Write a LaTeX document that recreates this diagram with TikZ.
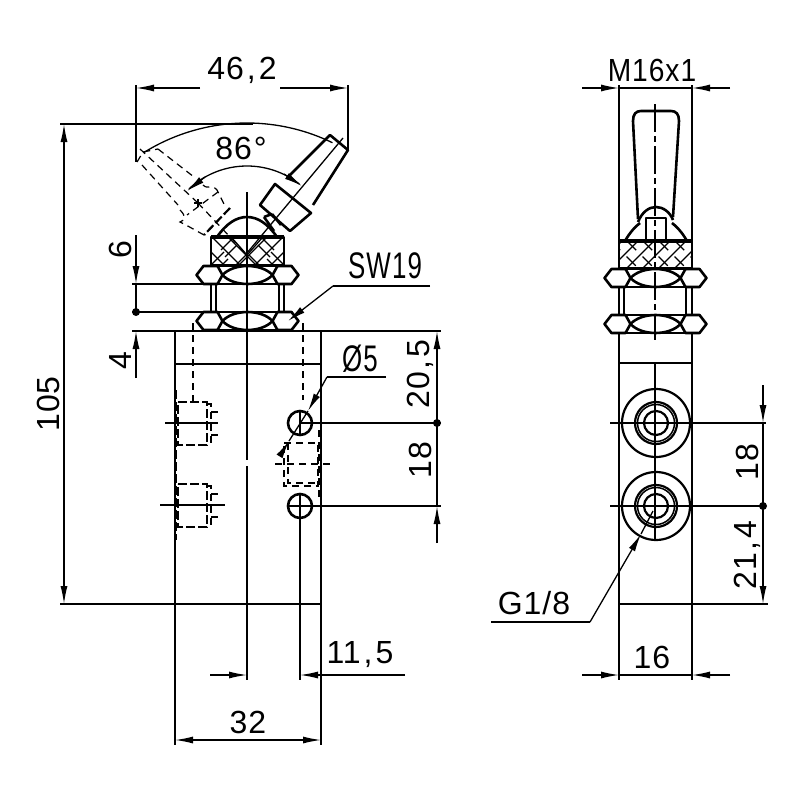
\documentclass[tikz,border=0pt]{standalone}
\usepackage{fontspec}
\setmainfont{Liberation Sans}[LetterSpace=3]
\newfontfamily\narrowf{Liberation Sans}[FakeStretch=0.7,LetterSpace=3]
\newfontfamily\midf{Liberation Sans}[FakeStretch=0.88,LetterSpace=3]
\usetikzlibrary{arrows.meta}
\tikzset{
  thk/.style={line width=2.6pt,line join=round},
  thn/.style={line width=1.3pt},
  hid/.style={line width=1.2pt,dash pattern=on 7pt off 5pt},
  hidk/.style={line width=1.7pt,dash pattern=on 9pt off 3pt},
  arr/.style={line width=1.3pt,-{Latex[length=18pt,width=7pt]}},
  dimtxt/.style={inner sep=0pt,font=\fontsize{32}{32}\selectfont},
  bigtxt/.style={inner sep=0pt,font=\fontsize{37}{37}\selectfont},
  dimrot/.style={dimtxt,rotate=90},
  dotn/.style={circle,fill=black,inner sep=0pt,minimum size=8pt}
}
\newcommand{\cm}{\kern3pt,\kern3pt}
\newcommand{\hexnut}[2]{%
  \begin{scope}[shift={(#1,#2)},thk]
    \draw (-51,0) -- (-44,-9) -- (-30,-9) -- (-25,0) -- (-30,9) -- (-44,9) -- cycle;
    \draw (51,0) -- (44,-9) -- (30,-9) -- (25,0) -- (30,9) -- (44,9) -- cycle;
    \draw (-25,0) .. controls (-14,-12) and (14,-12) .. (25,0) .. controls (14,12) and (-14,12) .. (-25,0) -- cycle;
    \draw (-30,-9) -- (30,-9) (-30,9) -- (30,9);
  \end{scope}}
\begin{document}
\begin{tikzpicture}[x=1pt,y=-1pt]
\useasboundingbox (0,0) rectangle (800,800);
\fill[white] (0,0) rectangle (800,800);

% ---------- left view: thin construction lines
\draw[thn] (247,192) -- (247,460) (247,466) -- (247,680);
\draw[thn] (136,85) -- (136,162);
\draw[thn] (348,85) -- (348,150);
\draw[thn] (60,124) -- (253,124);
\draw[thn] (60,604) -- (175,604);
\draw[thn] (132,284) -- (211,284);
\draw[thn] (132,312) -- (211,312);
\draw[thn] (132,331) -- (175,331);
\draw[thn] (321,331) -- (441,331);
\draw[thn] (300,423) -- (441,423);
\draw[thn] (300,506) -- (441,506);
\draw[thn] (300,411) -- (300,435);
\draw[thn] (288,506) -- (312,506);
\draw[thn] (300,494) -- (300,680);
\draw[thn] (321,604) -- (321,745);
\draw[thn] (175,604) -- (175,745);
\draw[thn] (165,423) -- (218,423);
\draw[thn] (160,505) -- (225,505);

% outer sweep arc
\draw[thn] plot[domain=-32:26,samples=40] ({247+195*sin(\x)},{318-195*cos(\x)});
% inner 86 degree arc
\draw[thn] plot[domain=-43:38,samples=40] ({247+85*sin(\x)},{251-85*cos(\x)});
\draw[arr] (205,177) -- (187,191);
\draw[arr] (284,174) -- (302,186);

% 46,2
\draw[arr] (200,88) -- (136,88);
\draw[arr] (280,88) -- (348,88);
\node[dimtxt] (d462) at (242,70) {46\cm 2};
% 86
\node[dimtxt] (d86) at (241,148) {86\kern2pt°};
% 105
\draw[arr] (64,350) -- (64,124);
\draw[arr] (64,350) -- (64,604);
\node[dimrot] (d105) at (48,404) {105};
% 6
\draw[arr] (136,235) -- (136,284);
\draw[thn] (136,284) -- (136,312);
\node[dimrot] (d6) at (120,250) {6};
\node[dotn] (dot6) at (136,312) {};
% 4
\draw[arr] (136,378) -- (136,331);
\node[dimrot] (d4) at (120,361) {4};
% SW19
\coordinate (swa) at (430,286);
\coordinate (swb) at (333,286);
\coordinate (swc) at (288,321);
\draw[thn] (swa) -- (swb);
\draw[arr] (swb) -- (swc);
\node[bigtxt] (tsw) at (385,266) {\narrowf SW19};
% 20,5 and 18
\draw[arr] (437,423) -- (437,331);
\draw[arr] (437,543) -- (437,506);
\draw[thn] (437,423) -- (437,506);
\node[dotn] (dot18) at (437,423) {};
\node[dimrot] (d205) at (420,374) {20\cm 5};
\node[dimrot] (d18a) at (420,460) {18};
% dia 5
\coordinate (pa) at (386,377);
\coordinate (pb) at (327,377);
\coordinate (pc) at (308,411);
\coordinate (pd) at (281,454);
\coordinate (pe) at (289,441);
\draw[thn] (pa) -- (pb);
\draw[arr] (pb) -- (pc);
\draw[thn] (pc) -- (pe);
\draw[arr] (pd) -- (pe);
\node[bigtxt] (tphi) at (360,359) {\narrowf Ø5};
% 11,5
\draw[arr] (210,675) -- (247,675);
\draw[arr] (405,675) -- (300,675);
\node[dimtxt] (d115) at (360,655) {11\cm 5};
% 32
\draw[arr] (248,740) -- (175,740);
\draw[arr] (248,740) -- (321,740);
\node[dimtxt] (d32) at (248,722) {32};

% ---------- left view: outlines
\draw[thk] (175,331) rectangle (321,604);
\draw[thk] (175,364) -- (321,364);
\draw[thk] (211,284) -- (211,312) (284,284) -- (284,312);
\draw[thk] (216,284) -- (216,312) (279,284) -- (279,312);
\hexnut{247.5}{275}
\hexnut{247.5}{321}
% knurl
\begin{scope}
\clip (211,238) rectangle (284,265);
\foreach \k in {211,227,243} \draw[thn] (\k-14,238) -- (\k+13,265);
\foreach \k in {284,268,252} \draw[thn] (\k+14,238) -- (\k-13,265);
\foreach \cx/\cy in {218/258,231/251,227/244,240/261,222/265}
  \draw[thn] (\cx-6,\cy+6) -- (\cx+6,\cy-6);
\foreach \cx/\cy in {264/251,277/258,268/244,255/261,273/265}
  \draw[thn] (\cx-6,\cy-6) -- (\cx+6,\cy+6);
\draw[thn] (232,238) -- (247,255) (262,238) -- (247,255);
\end{scope}
\draw[thk] (211,237) rectangle (284,265);
\draw[line width=3.8pt] (211,237) -- (284,237);
\draw[thk] (247,255) -- (247,265);
\draw[thk] (217,237) .. controls (226,224) and (236,217) .. (247,217) .. controls (258,217) and (268,224) .. (277,237);
% lever
\draw[thk] (290,175) -- (330,135) -- (348,150) -- (313,205);
\draw[thk] (275,184) -- (311,213) -- (290,231) -- (260,205) -- cycle;
\draw[thk] (264,217) -- (274,231) (272,214) -- (281,225);
\draw[thk] (264,217) -- (272,214);
\draw[thn] (343,138) -- (247,253);
\draw[hid] (198,203) -- (247,255);
% dashed lever
\draw[hid] (158,149) -- (194,177);
\draw[hid] (140,149) -- (198,203);
\draw[hid] (142,165) -- (178,205);
\draw[hid] (137,162) -- (143,152) -- (158,149);
\draw[hid] (203,185) .. controls (208,190) and (212,184) .. (217,190) -- (226,208);
\draw[hid] (218,192) -- (187,215);
\draw[hid] (180,210) .. controls (186,216) and (186,220) .. (180,222) -- (186,225) -- (204,235);
\draw[line width=2.2pt,dash pattern=on 9pt off 3pt] (230,208) -- (204,235);
\draw[thn] (194,203) -- (202,203) (198,199) -- (198,207);
% hidden lines
\draw[hid] (193,323) -- (193,402);
\draw[hid] (303,323) -- (303,400);
\foreach \yy in {402,484} {
  \draw[hidk] (178,\yy) -- (207,\yy) -- (207,\yy+43) -- (178,\yy+43) -- cycle;
  \draw[hid] (207,\yy+2) -- (211,\yy+2) -- (211,\yy+41) -- (207,\yy+41);
  \draw[hid] (211,\yy+10) -- (221,\yy+10) (211,\yy+33) -- (221,\yy+33);
}
\draw[hidk] (176,390) -- (176,540);
\draw[hid] (284,443) -- (318,443) -- (318,486) -- (284,486) -- cycle;
\draw[hid] (288,443) -- (288,483) -- (318,483);
\draw[hid] (275,464) -- (332,464);
\draw[hid] (319,430) -- (319,500);
% holes
\draw[thk] (300,423) circle (12);
\draw[thk] (300,506) circle (12);

% ---------- right view
\draw[thn] (619,85) -- (619,241);
\draw[thn] (692,85) -- (692,241);
\draw[thn,dash pattern=on 28pt off 4pt on 6pt off 4pt] (655,104) -- (655,340);
\draw[thn] (655,363) -- (655,540);
\draw[thn] (619,604) -- (619,680);
\draw[thn] (692,604) -- (692,680);
\draw[thn] (692,604) -- (768,604);
\draw[thn] (610,423) -- (766,423);
\draw[thn] (610,506) -- (766,506);
% M16x1
\draw[arr] (582,88) -- (619,88);
\draw[arr] (730,88) -- (692,88);
\draw[thn] (619,88) -- (692,88);
\node[dimtxt] (tm16) at (652,70) {\midf M16x1};
% 16
\draw[arr] (582,675) -- (619,675);
\draw[arr] (730,675) -- (692,675);
\draw[thn] (619,675) -- (692,675);
\node[dimtxt] (d16) at (652,657) {16};
% 18 and 21,4
\draw[arr] (763,385) -- (763,423);
\draw[thn] (763,423) -- (763,506);
\draw[arr] (763,540) -- (763,604);
\draw[thn] (763,506) -- (763,540);
\node[dotn] (dot21) at (763,506) {};
\node[dimrot] (d18b) at (747,462) {18};
\node[dimrot] (d214) at (747,555) {21\cm 4};
% G1/8
\coordinate (ga) at (491,622);
\coordinate (gb) at (590,622);
\coordinate (gc) at (641,534);
\coordinate (gd) at (653,511);
\draw[thn] (ga) -- (gb);
\draw[arr] (gb) -- (gc);
\draw[thn] (gc) -- (gd);
\node[dimtxt] (tg18) at (534,603) {G1/8};
% outlines
\draw[thk] (619,333) rectangle (692,604);
\draw[thk] (619,363) -- (692,363);
\draw[thk] (619,287) -- (619,314) (692,287) -- (692,314);
\draw[thk] (624,287) -- (624,314) (686,287) -- (686,314);
\hexnut{655.5}{278}
\hexnut{655.5}{324}
\begin{scope}
\clip (619,241) rectangle (692,268);
\foreach \k in {-24,-8,...,80} \draw[thn] (619+\k,268) -- (619+\k+27,241);
\foreach \k in {-24,-8,...,80} \draw[thn,dash pattern=on 13pt off 9pt] (619+\k,241) -- (619+\k+27,268);
\end{scope}
\draw[thk] (619,241) rectangle (692,268);
\draw[line width=3.8pt] (619,241) -- (692,241);
\draw[thk] (625,241) .. controls (630,232) and (636,226) .. (640,223);
\draw[thk] (687,241) .. controls (682,232) and (676,226) .. (672,223);
\draw[thk] (638,222) .. controls (642,212) and (649,207) .. (656,207) .. controls (663,207) and (670,212) .. (673,220);
\draw[thk] (646,240) -- (646,218) -- (666,218) -- (666,240);
\draw[thk] (638,219) -- (633,121) .. controls (633,114) and (636,111) .. (641,111) -- (671,111) .. controls (676,111) and (679,114) .. (679,121) -- (673,217);
% ports
\foreach \yy in {423,506} {
  \draw[line width=2.2pt] (656,\yy) circle (34);
  \draw[line width=2.2pt] (656,\yy) circle (21);
  \draw[line width=1.5pt] (656,\yy) circle (18.5);
  \draw[line width=2.2pt] (656,\yy) circle (12);
}
\end{tikzpicture}
\end{document}
